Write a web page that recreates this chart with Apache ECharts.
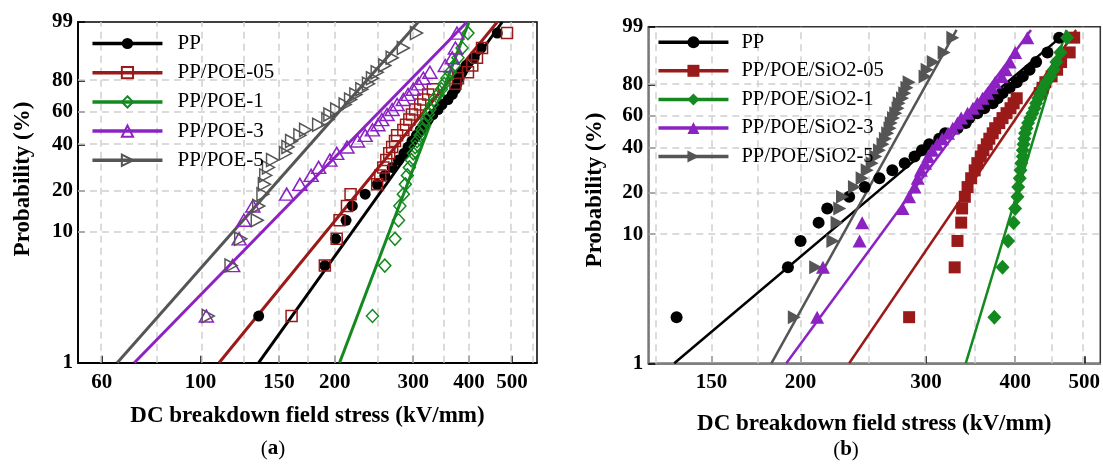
<!DOCTYPE html>
<html><head><meta charset="utf-8">
<script src="https://cdn.jsdelivr.net/npm/echarts@6/dist/echarts.min.js"></script>
<style>html,body{margin:0;padding:0;background:#fff}#c{width:1103px;height:465px}</style>
</head><body><div id="c"></div>
<script>
// ---------- DATA ----------
// Median-rank failure probabilities (%), 30 specimens per material
const probabilities = [2.3, 5.6, 8.9, 12.2, 15.5, 18.8, 22.0, 25.3, 28.6, 31.9, 35.2, 38.5, 41.8, 45.1, 48.4, 51.6, 54.9, 58.2, 61.5, 64.8, 68.1, 71.4, 74.7, 78.0, 81.3, 84.5, 87.8, 91.1, 94.4, 97.7];

// Panel (a) breakdown strengths (kV/mm)
const namesA = ['PP', 'PP/POE-05', 'PP/POE-1', 'PP/POE-3', 'PP/POE-5'];
const a_PP     = [135, 190, 201, 212, 219, 234, 249, 259, 269, 278, 286, 292, 298, 305, 311, 317, 324, 332, 341, 348, 359, 367, 373, 376, 380, 386, 394, 411, 426, 463];
const a_POE05  = [160, 190, 202, 205, 213, 217, 249, 253, 257, 261, 265, 269, 273, 276, 285, 289, 294, 298, 303, 311, 316, 324, 332, 373, 378, 398, 407, 417, 428, 487];
const a_POE1   = [243, 259, 273, 278, 280, 285, 288, 291, 294, 297, 300, 303, 306, 311, 314, 317, 321, 324, 327, 331, 334, 341, 347, 352, 357, 363, 371, 378, 386, 398];
const a_POE3   = [103, 118, 122, 125, 131, 156, 167, 177, 184, 195, 202, 213, 225, 234, 243, 250, 255, 262, 269, 276, 285, 292, 300, 308, 316, 327, 354, 367, 373, 376];
const a_POE5   = [104, 117, 123, 134, 135, 138, 139, 140, 142, 145, 155, 157, 160, 167, 172, 184, 193, 195, 202, 211, 217, 223, 230, 238, 243, 249, 259, 269, 285, 305];
// Panel (a) Weibull fit lines: [strength, probability %] end points
const fitA_PP    = [[135, 1], [475, 99]];
const fitA_POE05 = [[110, 1], [463, 99]];
const fitA_POE1  = [[205, 1], [400, 99]];
const fitA_POE3  = [[71, 1], [396, 99]];
const fitA_POE5  = [[65, 1], [308, 99]];

// Panel (b) breakdown strengths (kV/mm)
const namesB = ['PP', 'PP/POE/SiO2-05', 'PP/POE/SiO2-1', 'PP/POE/SiO2-3', 'PP/POE/SiO2-5'];
const b_PP     = [134, 192, 200, 212, 218, 234, 246, 258, 269, 280, 289, 296, 303, 313, 319, 332, 341, 345, 354, 362, 372, 378, 384, 393, 402, 410, 419, 428, 444, 461];
const b_Si05   = [284, 329, 332, 336, 337, 340, 343, 347, 351, 354, 358, 361, 365, 368, 372, 375, 380, 384, 389, 394, 398, 402, 433, 437, 441, 450, 458, 464, 477, 484];
const b_Si1    = [374, 384, 391, 398, 400, 403, 404, 406, 407, 408, 410, 410, 411, 412, 413, 415, 417, 420, 423, 426, 428, 431, 434, 438, 442, 448, 453, 457, 463, 473];
const b_Si3    = [211, 215, 242, 244, 278, 284, 289, 292, 295, 299, 302, 306, 311, 316, 322, 327, 332, 336, 343, 349, 354, 360, 366, 371, 375, 383, 388, 393, 400, 416];
const b_Si5    = [196, 210, 222, 225, 227, 229, 238, 244, 248, 252, 255, 258, 261, 263, 265, 267, 268, 270, 272, 274, 275, 278, 280, 282, 284, 299, 301, 307, 318, 327];
const fitB_PP   = [[133, 1], [466, 98]];
const fitB_Si05 = [[234, 1], [487, 98.7]];
const fitB_Si1  = [[341, 1], [472, 98.7]];
const fitB_Si3  = [[191, 1], [421, 98.7]];
const fitB_Si5  = [[182, 1], [331, 98.7]];

// Axis ticks / ranges
const yTicks  = [1, 10, 20, 40, 60, 80, 99];
const yGrid   = [10, 20, 40, 60, 80];
const xTicksA = [60, 100, 150, 200, 300, 400, 500];
const xGridA  = [60, 80, 100, 125, 150, 175, 200, 250, 300, 350, 400, 500, 557];
const xRangeA = [53.07, 568.6];
const xTicksB = [150, 200, 300, 400, 500];
const xGridB  = [125, 150, 175, 200, 250, 300, 350, 400, 450, 500];
const xRangeB = [122.3, 526.6];
const yRange  = [1, 99];

// ---------- BUILD ----------
const FONT = '"Liberation Serif", "Times New Roman", serif';
const lnE = v => Math.log(v);
const weib = p => Math.log(-Math.log(1 - p / 100));
const toPct = v => Math.round((1 - Math.exp(-Math.exp(v))) * 100);

const colors = ['#000000', '#9a1a1a', '#13891f', '#8c22c2', '#555555'];
const markA = [
  {symbol: 'circle', size: 11, rot: 0, hollow: false},
  {symbol: 'rect', size: 11, rot: 0, hollow: true},
  {symbol: 'diamond', size: [12, 13], rot: 0, hollow: true},
  {symbol: 'triangle', size: [14, 12], rot: 0, hollow: true},
  {symbol: 'triangle', size: [13, 12], rot: -90, hollow: true}
];
const markB = [
  {symbol: 'circle', size: 12, rot: 0, hollow: false},
  {symbol: 'rect', size: 12, rot: 0, hollow: false},
  {symbol: 'diamond', size: [14, 15], rot: 0, hollow: false},
  {symbol: 'triangle', size: [14, 13], rot: 0, hollow: false},
  {symbol: 'triangle', size: [14, 13], rot: -90, hollow: false}
];

function pointSeries(name, vals, mk, col, idx) {
  return {
    type: 'line', name: name, xAxisIndex: idx, yAxisIndex: idx,
    data: vals.map((v, i) => [lnE(v), weib(probabilities[i])]),
    symbol: mk.symbol, symbolSize: mk.size, symbolRotate: mk.rot,
    showSymbol: true, showAllSymbol: true, silent: true, z: 3,
    lineStyle: {width: 0, opacity: 0, color: col},
    itemStyle: mk.hollow
      ? {color: 'rgba(255,255,255,0)', borderColor: col, borderWidth: 1.5}
      : {color: col, borderColor: col, borderWidth: 0},
    emphasis: {disabled: true}
  };
}
function fitSeries(name, fit, col, idx, w) {
  return {
    type: 'line', name: name + ' fit', xAxisIndex: idx, yAxisIndex: idx,
    data: fit.map(d => [lnE(d[0]), weib(d[1])]),
    showSymbol: false, symbol: 'none', silent: true, z: 2,
    lineStyle: {width: w, color: col},
    emphasis: {disabled: true}
  };
}
function gridMarks(xg) {
  return {
    silent: true, symbol: ['none', 'none'], z: 1, animation: false,
    label: {show: false}, emphasis: {disabled: true},
    lineStyle: {type: [7, 5], color: '#cfcfcf', width: 1.5},
    data: xg.map(v => ({xAxis: lnE(v)})).concat(yGrid.map(p => ({yAxis: weib(p)})))
  };
}

const dataA = [a_PP, a_POE05, a_POE1, a_POE3, a_POE5];
const fitsA = [fitA_PP, fitA_POE05, fitA_POE1, fitA_POE3, fitA_POE5];
const dataB = [b_PP, b_Si05, b_Si1, b_Si3, b_Si5];
const fitsB = [fitB_PP, fitB_Si05, fitB_Si1, fitB_Si3, fitB_Si5];

const series = [];
fitsA.forEach((f, i) => series.push(fitSeries(namesA[i] + ' (a)', f, colors[i], 0, 3)));
series[0].markLine = gridMarks(xGridA);
dataA.forEach((d, i) => series.push(pointSeries(namesA[i], d, markA[i], colors[i], 0)));
const startB = series.length;
fitsB.forEach((f, i) => series.push(fitSeries(namesB[i] + ' (b)', f, colors[i], 1, 2.5)));
series[startB].markLine = gridMarks(xGridB);
dataB.forEach((d, i) => series.push(pointSeries(namesB[i], d, markB[i], colors[i], 1)));

const tickRich = {t: {fontFamily: FONT, fontWeight: 'bold', fontSize: 21, color: '#000'}};

function xAxisCfg(idx, ticks, range, axisCol, gap) {
  return {
    gridIndex: idx, type: 'value', min: lnE(range[0]), max: lnE(range[1]),
    axisLine: {show: true, onZero: false, lineStyle: {color: axisCol, width: 1.8}},
    axisTick: {show: true, inside: true, length: 7, customValues: ticks.map(lnE), lineStyle: {color: '#000', width: 1.5}},
    axisLabel: {customValues: ticks.map(lnE), formatter: v => '{t|' + Math.round(Math.exp(v)) + '}',
      rich: tickRich, margin: 9, fontFamily: FONT, fontWeight: 'bold', fontSize: 21, color: '#000'},
    splitLine: {show: false},
    name: 'DC breakdown field stress (kV/mm)', nameLocation: 'middle', nameGap: gap,
    nameTextStyle: {fontFamily: FONT, fontWeight: 'bold', fontSize: 23, color: '#000', verticalAlign: 'top'}
  };
}
function yAxisCfg(idx, axisCol) {
  return {
    gridIndex: idx, type: 'value', min: weib(yRange[0]), max: weib(yRange[1]),
    axisLine: {show: true, onZero: false, lineStyle: {color: axisCol, width: 1.8}},
    axisTick: {show: true, inside: true, length: 7, customValues: yTicks.map(weib), lineStyle: {color: '#000', width: 1.5}},
    axisLabel: {customValues: yTicks.map(weib), formatter: v => '{t|' + toPct(v) + '}',
      rich: tickRich, margin: 5, fontFamily: FONT, fontWeight: 'bold', fontSize: 21, color: '#000'},
    splitLine: {show: false}
  };
}
function legendCfg(names, left, top, ih, gap, fs, pad) {
  return {
    orient: 'vertical', left: left, top: top, padding: 0, itemWidth: 70, itemHeight: ih, itemGap: gap,
    selectedMode: false,
    data: names.map((n, i) => ({name: n, lineStyle: {width: 3.5, opacity: 1, color: colors[i], type: 'solid'}})),
    textStyle: {fontFamily: FONT, fontSize: fs, color: '#000', lineHeight: 20, padding: [0, 0, 0, pad]}
  };
}

const option = {
  animation: false,
  backgroundColor: '#ffffff',
  textStyle: {fontFamily: FONT},
  grid: [
    {left: 78, top: 22, width: 459, height: 340.7, show: true, borderColor: '#000', borderWidth: 1.5, backgroundColor: 'transparent'},
    {left: 648.3, top: 26.7, width: 452.7, height: 336.6, show: true, borderColor: '#333', borderWidth: 1.5, backgroundColor: 'transparent'}
  ],
  xAxis: [xAxisCfg(0, xTicksA, xRangeA, '#000', 42), xAxisCfg(1, xTicksB, xRangeB, '#808080', 49)],
  yAxis: [yAxisCfg(0, '#000'), yAxisCfg(1, '#808080')],
  legend: [legendCfg(namesA, 90.7, 33, 14, 8.2, 21, 10), legendCfg(namesB, 656.7, 31.7, 15, 7.6, 20.5, 8)],
  graphic: [
    {type: 'text', x: 23, y: 179, rotation: Math.PI / 2,
      style: {text: 'Probability (%)', font: 'bold 23px ' + FONT, fill: '#000', align: 'center', verticalAlign: 'middle'}},
    {type: 'text', x: 595, y: 190, rotation: Math.PI / 2,
      style: {text: 'Probability (%)', font: 'bold 23px ' + FONT, fill: '#000', align: 'center', verticalAlign: 'middle'}},
    {type: 'text', x: 273, y: 449,
      style: {text: '({b|a})', font: '21px ' + FONT, fill: '#000', align: 'center', verticalAlign: 'middle',
        rich: {b: {fontWeight: 'bold', fontSize: 21, fontFamily: FONT}}}},
    {type: 'text', x: 846, y: 450,
      style: {text: '({b|b})', font: '21px ' + FONT, fill: '#000', align: 'center', verticalAlign: 'middle',
        rich: {b: {fontWeight: 'bold', fontSize: 21, fontFamily: FONT}}}}
  ],
  series: series
};

const chart = echarts.init(document.getElementById('c'), null, {renderer: 'canvas'});
chart.setOption(option);
</script>
</body></html>
